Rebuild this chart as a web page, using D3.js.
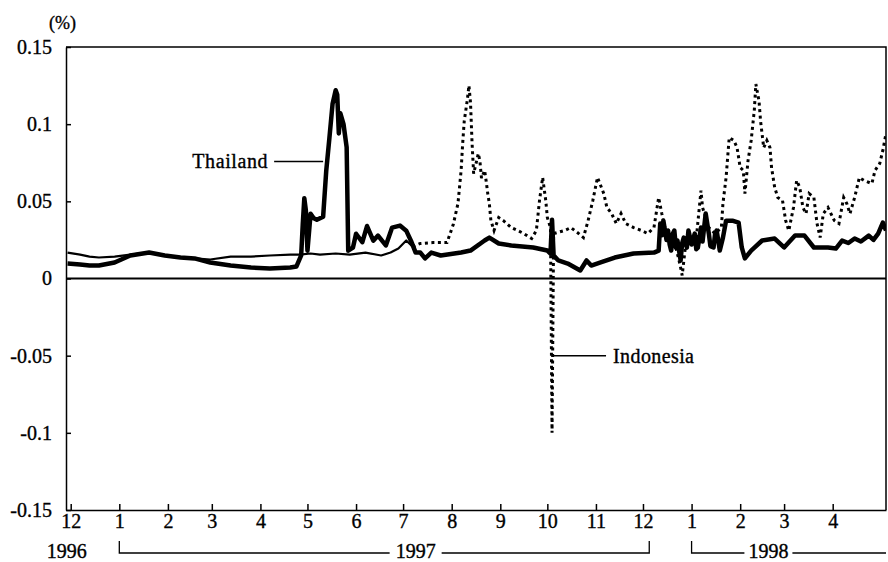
<!DOCTYPE html>
<html>
<head>
<meta charset="utf-8">
<script src="https://cdn.jsdelivr.net/npm/d3@7"></script>
<style>
  body { margin: 0; background: #fff; }
  text { font-family: "Liberation Serif", serif; fill: #000; stroke: #000; stroke-width: 0.35px; }
</style>
</head>
<body>
<script>
// daily interbank rate changes (%)
const thailand = [
  ["1996-11-29", 0.0097], ["1996-12-07", 0.0091], ["1996-12-13", 0.0084], ["1996-12-19", 0.0084],
  ["1996-12-29", 0.0104], ["1997-01-08", 0.0149], ["1997-01-20", 0.0168], ["1997-01-30", 0.0149],
  ["1997-02-09", 0.0136], ["1997-02-18", 0.0130], ["1997-02-28", 0.0104], ["1997-03-13", 0.0084],
  ["1997-03-26", 0.0071], ["1997-04-07", 0.0065], ["1997-04-20", 0.0071], ["1997-04-24", 0.0078],
  ["1997-04-27", 0.0150], ["1997-04-28", 0.0350], ["1997-04-29", 0.0520], ["1997-04-30", 0.0440],
  ["1997-05-01", 0.0180], ["1997-05-03", 0.0420], ["1997-05-05", 0.0390], ["1997-05-07", 0.0380],
  ["1997-05-09", 0.0390], ["1997-05-11", 0.0400], ["1997-05-13", 0.0700], ["1997-05-15", 0.0910],
  ["1997-05-17", 0.1130], ["1997-05-19", 0.1220], ["1997-05-20", 0.1190], ["1997-05-21", 0.0940],
  ["1997-05-22", 0.1070], ["1997-05-24", 0.1000], ["1997-05-26", 0.0850], ["1997-05-27", 0.0180],
  ["1997-05-30", 0.0200], ["1997-06-01", 0.0290], ["1997-06-05", 0.0235], ["1997-06-08", 0.0340],
  ["1997-06-12", 0.0245], ["1997-06-15", 0.0278], ["1997-06-20", 0.0214], ["1997-06-24", 0.0330],
  ["1997-06-29", 0.0343], ["1997-07-03", 0.0310], ["1997-07-06", 0.0245], ["1997-07-09", 0.0168],
  ["1997-07-12", 0.0168], ["1997-07-15", 0.0130], ["1997-07-19", 0.0168], ["1997-07-25", 0.0149],
  ["1997-08-07", 0.0168], ["1997-08-13", 0.0181], ["1997-08-22", 0.0246], ["1997-08-25", 0.0265],
  ["1997-08-31", 0.0227], ["1997-09-08", 0.0214], ["1997-09-22", 0.0201], ["1997-10-01", 0.0181],
  ["1997-10-03", 0.0162], ["1997-10-04", 0.0380], ["1997-10-05", 0.0150], ["1997-10-08", 0.0117],
  ["1997-10-14", 0.0097], ["1997-10-22", 0.0052], ["1997-10-26", 0.0117], ["1997-10-29", 0.0084],
  ["1997-11-04", 0.0104], ["1997-11-13", 0.0136], ["1997-11-25", 0.0162], ["1997-12-08", 0.0168],
  ["1997-12-11", 0.0181], ["1997-12-12", 0.0356], ["1997-12-13", 0.0280], ["1997-12-14", 0.0375],
  ["1997-12-16", 0.0250], ["1997-12-17", 0.0311], ["1997-12-18", 0.0220], ["1997-12-19", 0.0181],
  ["1997-12-20", 0.0290], ["1997-12-21", 0.0311], ["1997-12-22", 0.0200], ["1997-12-23", 0.0246],
  ["1997-12-25", 0.0117], ["1997-12-26", 0.0230], ["1997-12-27", 0.0265], ["1997-12-29", 0.0200],
  ["1997-12-30", 0.0311], ["1998-01-01", 0.0220], ["1998-01-03", 0.0291], ["1998-01-04", 0.0190],
  ["1998-01-05", 0.0200], ["1998-01-07", 0.0330], ["1998-01-08", 0.0240], ["1998-01-10", 0.0421],
  ["1998-01-12", 0.0291], ["1998-01-13", 0.0210], ["1998-01-15", 0.0201], ["1998-01-16", 0.0290],
  ["1998-01-17", 0.0311], ["1998-01-19", 0.0181], ["1998-01-21", 0.0265], ["1998-01-23", 0.0375],
  ["1998-01-27", 0.0375], ["1998-01-31", 0.0362], ["1998-02-02", 0.0201], ["1998-02-04", 0.0130],
  ["1998-02-08", 0.0181], ["1998-02-15", 0.0246], ["1998-02-23", 0.0259], ["1998-03-01", 0.0201],
  ["1998-03-08", 0.0278], ["1998-03-14", 0.0278], ["1998-03-20", 0.0201], ["1998-03-29", 0.0201],
  ["1998-04-03", 0.0194], ["1998-04-07", 0.0246], ["1998-04-11", 0.0230], ["1998-04-15", 0.0259],
  ["1998-04-19", 0.0240], ["1998-04-24", 0.0278], ["1998-04-27", 0.0250], ["1998-04-30", 0.0291],
  ["1998-05-03", 0.0362], ["1998-05-05", 0.0311]
]

const indonesia = [
  ["1996-11-29", 0.0168], ["1996-12-07", 0.0155], ["1996-12-13", 0.0142], ["1996-12-19", 0.0136],
  ["1996-12-29", 0.0142], ["1997-01-08", 0.0155], ["1997-01-20", 0.0168], ["1997-01-30", 0.0149],
  ["1997-02-09", 0.0136], ["1997-02-18", 0.0130], ["1997-02-28", 0.0123], ["1997-03-13", 0.0142],
  ["1997-03-26", 0.0142], ["1997-04-07", 0.0149], ["1997-04-20", 0.0155], ["1997-04-26", 0.0155],
  ["1997-05-03", 0.0162], ["1997-05-09", 0.0155], ["1997-05-19", 0.0162], ["1997-05-28", 0.0155],
  ["1997-06-07", 0.0168], ["1997-06-17", 0.0149], ["1997-06-23", 0.0168], ["1997-06-28", 0.0194],
  ["1997-07-03", 0.0246], ["1997-07-07", 0.0207], ["1997-07-12", 0.0227], ["1997-07-20", 0.0233],
  ["1997-07-29", 0.0233], ["1997-07-31", 0.0291], ["1997-08-02", 0.0350], ["1997-08-05", 0.0486],
  ["1997-08-07", 0.0700], ["1997-08-08", 0.0874], ["1997-08-09", 0.1020], ["1997-08-11", 0.1160],
  ["1997-08-12", 0.1250], ["1997-08-13", 0.1140], ["1997-08-14", 0.0874], ["1997-08-15", 0.0680],
  ["1997-08-18", 0.0810], ["1997-08-19", 0.0760], ["1997-08-20", 0.0650], ["1997-08-22", 0.0700],
  ["1997-08-23", 0.0630], ["1997-08-24", 0.0550], ["1997-08-25", 0.0486], ["1997-08-26", 0.0375],
  ["1997-08-28", 0.0311], ["1997-08-31", 0.0395], ["1997-09-03", 0.0375], ["1997-09-08", 0.0330],
  ["1997-09-12", 0.0311], ["1997-09-16", 0.0291], ["1997-09-21", 0.0259], ["1997-09-24", 0.0311],
  ["1997-09-26", 0.0505], ["1997-09-28", 0.0655], ["1997-09-30", 0.0505], ["1997-10-01", 0.0395],
  ["1997-10-03", 0.0330], ["1997-10-04", -0.1000], ["1997-10-05", 0.0291], ["1997-10-12", 0.0311],
  ["1997-10-16", 0.0330], ["1997-10-21", 0.0291], ["1997-10-24", 0.0265], ["1997-10-27", 0.0375],
  ["1997-10-30", 0.0505], ["1997-11-02", 0.0655], ["1997-11-06", 0.0550], ["1997-11-08", 0.0460],
  ["1997-11-11", 0.0421], ["1997-11-14", 0.0356], ["1997-11-17", 0.0421], ["1997-11-20", 0.0356],
  ["1997-11-25", 0.0330], ["1997-11-30", 0.0311], ["1997-12-04", 0.0291], ["1997-12-08", 0.0330],
  ["1997-12-11", 0.0525], ["1997-12-13", 0.0421], ["1997-12-15", 0.0330], ["1997-12-18", 0.0280],
  ["1997-12-21", 0.0240], ["1997-12-24", 0.0117], ["1997-12-25", 0.0071], ["1997-12-26", 0.0020],
  ["1997-12-28", 0.0200], ["1997-12-31", 0.0240], ["1998-01-04", 0.0260], ["1998-01-07", 0.0570],
  ["1998-01-08", 0.0460], ["1998-01-12", 0.0330], ["1998-01-16", 0.0291], ["1998-01-20", 0.0330],
  ["1998-01-21", 0.0486], ["1998-01-23", 0.0654], ["1998-01-25", 0.0913], ["1998-01-28", 0.0894],
  ["1998-01-30", 0.0848], ["1998-01-31", 0.0784], ["1998-02-01", 0.0719], ["1998-02-03", 0.0700],
  ["1998-02-04", 0.0550], ["1998-02-06", 0.0764], ["1998-02-08", 0.0894], ["1998-02-10", 0.1090],
  ["1998-02-11", 0.1260], ["1998-02-13", 0.1150], ["1998-02-14", 0.1020], ["1998-02-16", 0.0848],
  ["1998-02-18", 0.0894], ["1998-02-20", 0.0848], ["1998-02-21", 0.0719], ["1998-02-23", 0.0590],
  ["1998-02-25", 0.0525], ["1998-02-28", 0.0505], ["1998-03-02", 0.0376], ["1998-03-04", 0.0310],
  ["1998-03-07", 0.0460], ["1998-03-09", 0.0635], ["1998-03-11", 0.0590], ["1998-03-13", 0.0460],
  ["1998-03-15", 0.0420], ["1998-03-17", 0.0550], ["1998-03-20", 0.0525], ["1998-03-22", 0.0356],
  ["1998-03-24", 0.0266], ["1998-03-26", 0.0420], ["1998-03-29", 0.0460], ["1998-04-02", 0.0376],
  ["1998-04-05", 0.0356], ["1998-04-08", 0.0525], ["1998-04-10", 0.0486], ["1998-04-12", 0.0420],
  ["1998-04-15", 0.0525], ["1998-04-18", 0.0654], ["1998-04-21", 0.0635], ["1998-04-26", 0.0615],
  ["1998-04-28", 0.0700], ["1998-05-01", 0.0745], ["1998-05-03", 0.0830], ["1998-05-05", 0.0940]
]

const yTicks = [-0.15, -0.1, -0.05, 0, 0.05, 0.1, 0.15]
const monthTicks = ["1996-12-01", "1997-01-01", "1997-02-01", "1997-03-01", "1997-04-01", "1997-05-01",
  "1997-06-01", "1997-07-01", "1997-08-01", "1997-09-01", "1997-10-01", "1997-11-01", "1997-12-01",
  "1998-01-01", "1998-02-01", "1998-03-01", "1998-04-01"]
const monthLabels = ["12", "1", "2", "3", "4", "5", "6", "7", "8", "9", "10", "11", "12", "1", "2", "3", "4"]
const years = ["1996", "1997", "1998"]

const svgWidth = 888
const svgHeight = 562
const margin = { top: 47, right: 2, bottom: 52, left: 66 }
const chartWidth = svgWidth - margin.left - margin.right
const chartHeight = svgHeight - margin.top - margin.bottom

const parse = d3.timeParse("%Y-%m-%d")

const svg = d3.select("body").append("svg")
  .attr("width", svgWidth)
  .attr("height", svgHeight)

const chartG = svg.append("g")
  .attr("transform", `translate(${margin.left}, ${margin.top})`)

const x = d3.scaleTime()
  .domain([parse("1996-11-28"), parse("1998-05-05")])
  .range([0, chartWidth])

const y = d3.scaleLinear()
  .domain([-0.15, 0.15])
  .range([chartHeight, 0])

svg.append("defs").append("clipPath").attr("id", "plot")
  .append("rect").attr("width", chartWidth).attr("height", chartHeight)

// y axis, ticks pointing inward
const yAxis = d3.axisLeft(y)
  .tickValues(yTicks)
  .tickFormat(d => String(+d.toFixed(2)))
  .tickSizeInner(-5)
  .tickSizeOuter(0)
  .tickPadding(14)

chartG.append("g")
  .call(yAxis)
  .call(g => g.selectAll("text").style("font-size", "20px"))
  .call(g => g.selectAll("line, path").attr("stroke", "#000").attr("stroke-width", 1.5))

// x axis, month ticks
const xAxis = d3.axisBottom(x)
  .tickValues(monthTicks.map(parse))
  .tickFormat((d, i) => monthLabels[i])
  .tickSizeInner(-6)
  .tickSizeOuter(0)
  .tickPadding(4)

chartG.append("g")
  .attr("transform", `translate(0, ${chartHeight})`)
  .call(xAxis)
  .call(g => g.selectAll("text").style("font-size", "20px"))
  .call(g => g.selectAll("line, path").attr("stroke", "#000").attr("stroke-width", 1.5))

// frame top and right
chartG.append("path")
  .attr("d", `M0,0H${chartWidth}V${chartHeight}`)
  .attr("fill", "none").attr("stroke", "#000").attr("stroke-width", 1.5)

// zero line
chartG.append("line")
  .attr("x1", 0).attr("x2", chartWidth)
  .attr("y1", y(0)).attr("y2", y(0))
  .attr("stroke", "#000").attr("stroke-width", 2)

// (%) unit
svg.append("text")
  .attr("x", 49).attr("y", 29)
  .style("font-size", "18px")
  .text("(%)")

// year labels and brackets
const yearG = chartG.append("g").attr("transform", `translate(0, ${chartHeight})`)
const bTop = 31, bLine = 43, yearBase = 48

yearG.append("text")
  .attr("x", x(parse("1996-12-01")) - 4).attr("y", yearBase)
  .attr("text-anchor", "middle").style("font-size", "20px")
  .text(years[0])

const x97a = x(parse("1997-01-01")), x97b = x(parse("1997-12-05")), x97t = x(parse("1997-07-09"))
yearG.append("path")
  .attr("d", `M${x97a},${bTop}V${bLine}H${x97t - 26}M${x97t + 26},${bLine}H${x97b}V${bTop}`)
  .attr("fill", "none").attr("stroke", "#000").attr("stroke-width", 1.3)
yearG.append("text")
  .attr("x", x97t).attr("y", yearBase)
  .attr("text-anchor", "middle").style("font-size", "20px")
  .text(years[1])

const x98a = x(parse("1998-01-01")), x98t = x(parse("1998-02-19"))
yearG.append("path")
  .attr("d", `M${x98a},${bTop}V${bLine}H${x98t - 24}M${x98t + 24},${bLine}H${chartWidth}`)
  .attr("fill", "none").attr("stroke", "#000").attr("stroke-width", 1.3)
yearG.append("text")
  .attr("x", x98t).attr("y", yearBase)
  .attr("text-anchor", "middle").style("font-size", "20px")
  .text(years[2])

// series
const thaiData = thailand.map(([d, v]) => ({ date: parse(d), value: v }))
const indoData = indonesia.map(([d, v]) => ({ date: parse(d), value: v }))

const line = d3.line()
  .x(d => x(d.date))
  .y(d => y(d.value))

const plotG = chartG.append("g").attr("clip-path", "url(#plot)")

// Indonesia: thin solid while flat, dotted afterwards
const switchDate = parse("1997-07-07")
plotG.append("path")
  .datum(indoData.filter(d => d.date <= switchDate))
  .attr("d", line)
  .attr("fill", "none").attr("stroke", "#000")
  .attr("stroke-width", 2.2).attr("stroke-linejoin", "round")

plotG.append("path")
  .datum(indoData.filter(d => d.date >= switchDate))
  .attr("d", line)
  .attr("fill", "none").attr("stroke", "#000")
  .attr("stroke-width", 3).attr("stroke-dasharray", "3,3.5")

plotG.append("path")
  .datum(thaiData)
  .attr("d", line)
  .attr("fill", "none").attr("stroke", "#000")
  .attr("stroke-width", 4.5).attr("stroke-linejoin", "round")

// labels with leader lines
const thaiEnd = x(parse("1997-05-11")), thaiY = y(0.0758)
chartG.append("line")
  .attr("x1", thaiEnd - 49).attr("x2", thaiEnd)
  .attr("y1", thaiY).attr("y2", thaiY)
  .attr("stroke", "#000").attr("stroke-width", 1.5)
chartG.append("text")
  .attr("x", thaiEnd - 55).attr("y", thaiY + 6)
  .attr("text-anchor", "end").style("font-size", "20px")
  .style("letter-spacing", "0.6px")
  .text("Thailand")

const indoStart = x(parse("1997-10-04")), indoY = y(-0.05)
chartG.append("line")
  .attr("x1", indoStart).attr("x2", indoStart + 54)
  .attr("y1", indoY).attr("y2", indoY)
  .attr("stroke", "#000").attr("stroke-width", 1.5)
chartG.append("text")
  .attr("x", indoStart + 61).attr("y", indoY + 7)
  .style("font-size", "20px")
  .style("letter-spacing", "0.4px")
  .text("Indonesia")
</script>
</body>
</html>
